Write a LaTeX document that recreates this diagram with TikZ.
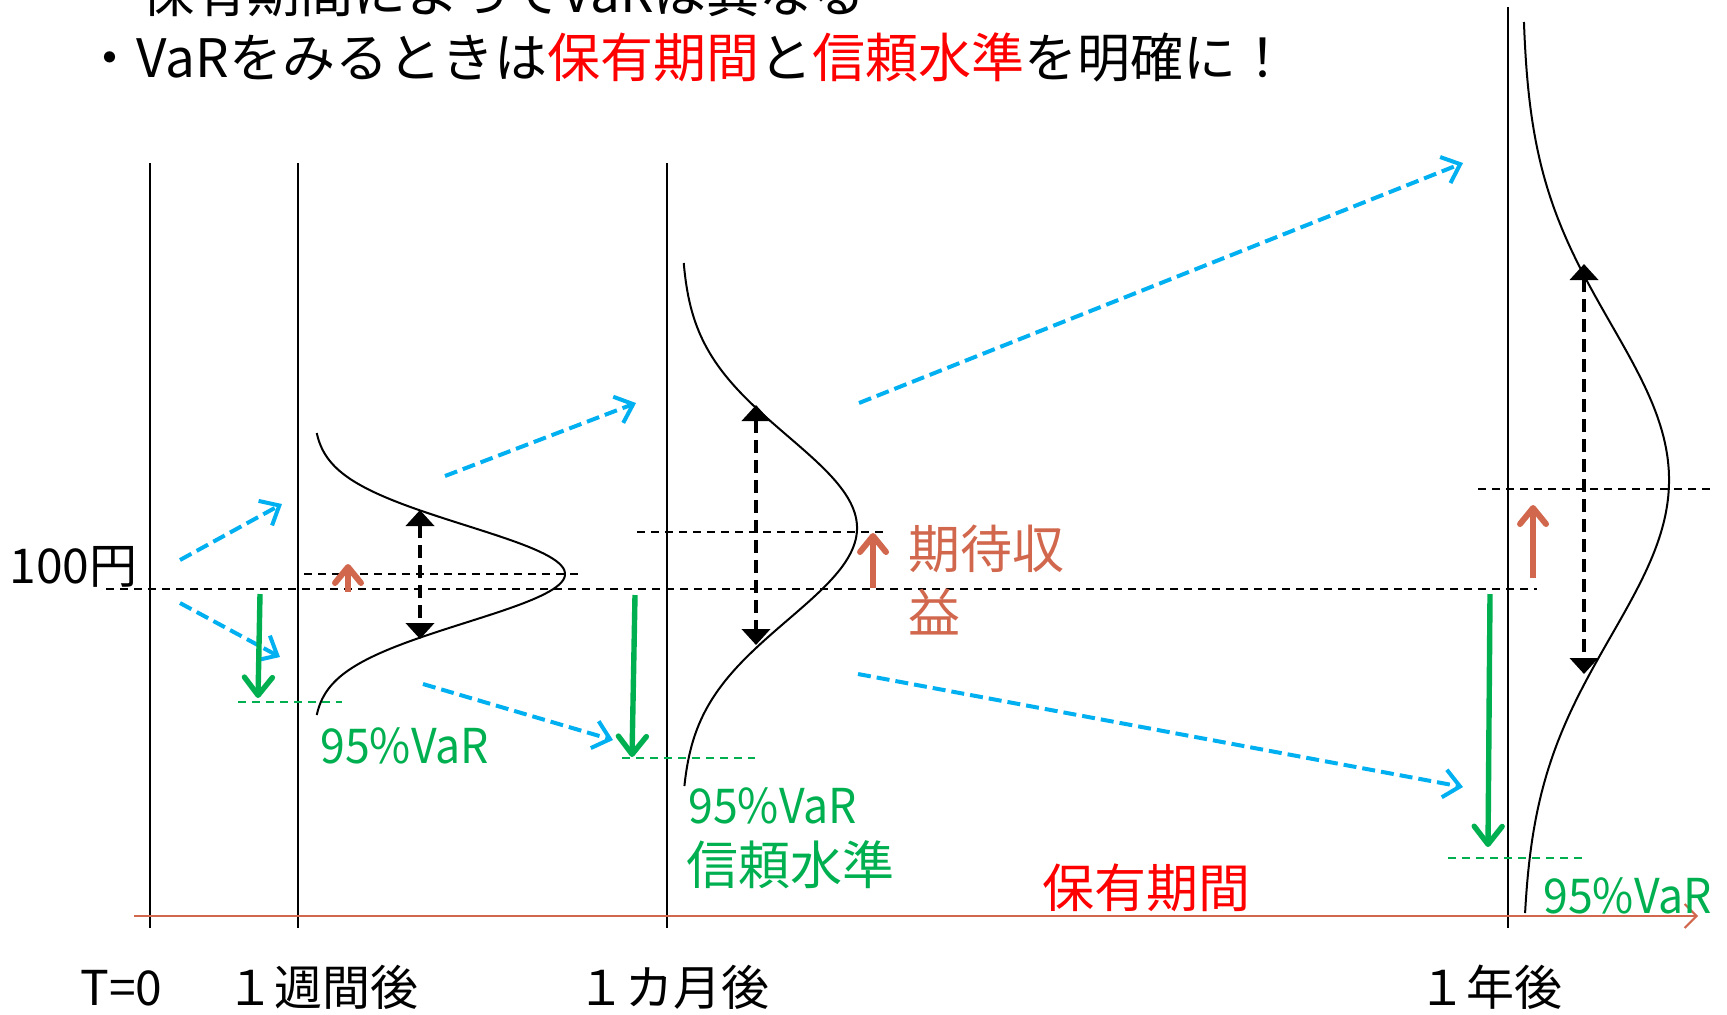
\documentclass[tikz,border=0pt]{standalone}
\usepackage{fontspec}
\setmainfont{Noto Sans CJK JP}
\usetikzlibrary{arrows.meta}
\definecolor{myblue}{RGB}{0,176,240}
\definecolor{mygreen}{RGB}{0,176,80}
\definecolor{myorange}{RGB}{209,104,78}
\newcommand{\varlbl}{\scalebox{0.93}[1]{95\%VaR}}
\tikzset{
  x=0.5pt, y=-0.5pt,
  vline/.style={line width=1pt},
  refline/.style={line width=1pt, dash pattern=on 4pt off 3pt},
  greendash/.style={mygreen, line width=0.8pt, dash pattern=on 4pt off 3pt},
  bluearrow/.style={myblue, line width=2pt, dash pattern=on 6.5pt off 3pt, -{Straight Barb[length=8pt,width=14pt]}},
  spread/.style={line width=2pt, dash pattern=on 6.5pt off 3.5pt, {Triangle[length=8pt,width=14pt]}-{Triangle[length=8pt,width=14pt]}},
  retarrow/.style={myorange, line width=3pt, -{Straight Barb[length=8pt,width=13pt,round]}},
  vararrow/.style={mygreen, line width=2.7pt, -{Straight Barb[length=9pt,width=14pt,round]}},
  dist/.style={line width=1pt},
  axisline/.style={myorange, line width=1pt, -{Straight Barb[length=6pt,width=12pt]}},
  txt/.style={anchor=base west, inner sep=0pt, font=\fontsize{#1}{#1}\selectfont},
}
\begin{document}
\begin{tikzpicture}
\useasboundingbox (0,0) rectangle (1727,1014);

% title
\node[txt=26.5pt] (title1) at (141,12) {保有期間によってVaRは異なる};
\node[txt=26.5pt] (title2) at (83,77) {・VaRをみるときは{\color{red}保有期間}と{\color{red}信頼水準}を明確に！};

% vertical time lines
\coordinate (t0top) at (150,163); \coordinate (t0bot) at (150,928);
\coordinate (w1top) at (298,163); \coordinate (w1bot) at (298,928);
\coordinate (m1top) at (667,163); \coordinate (m1bot) at (667,928);
\coordinate (y1top) at (1508,7);  \coordinate (y1bot) at (1508,928);
\draw[vline] (t0top) -- (t0bot);
\draw[vline] (w1top) -- (w1bot);
\draw[vline] (m1top) -- (m1bot);
\draw[vline] (y1top) -- (y1bot);

% time axis
\coordinate (axs) at (134,916); \coordinate (axe) at (1698,916);
\draw[axisline] (axs) -- (axe);

% reference 100 line and expected levels
\coordinate (r0) at (106,589); \coordinate (r1) at (1537,589);
\draw[refline] (r0) -- (r1);
\coordinate (wp0) at (304,574); \coordinate (wp1) at (578,574);
\draw[refline] (wp0) -- (wp1);
\coordinate (mp0) at (637,532); \coordinate (mp1) at (883,532);
\draw[refline] (mp0) -- (mp1);
\coordinate (yp0) at (1478,489); \coordinate (yp1) at (1710,489);
\draw[refline] (yp0) -- (yp1);

% VaR levels
\coordinate (wv0) at (238,702); \coordinate (wv1) at (342,702);
\draw[greendash] (wv0) -- (wv1);
\coordinate (mv0) at (622,758); \coordinate (mv1) at (755,758);
\draw[greendash] (mv0) -- (mv1);
\coordinate (yv0) at (1448,858); \coordinate (yv1) at (1582,858);
\draw[greendash] (yv0) -- (yv1);

% distributions
\draw[dist] plot[domain=433:715, samples=120, variable=\t] ({313+252*exp(-0.5*((\t-574)/48.6)^2)}, \t);
\draw[dist] plot[domain=263:786, samples=160, variable=\t] ({681+176*exp(-0.5*((\t-528)/91.9)^2)}, \t);
\draw[dist] plot[domain=22:913, samples=200, variable=\t] ({1522+147*exp(-0.5*((\t-480)/155.7)^2)}, \t);

% blue path arrows
\coordinate (b1s) at (180,560); \coordinate (b1e) at (282,504);
\coordinate (b2s) at (180,603); \coordinate (b2e) at (280,657);
\coordinate (b3s) at (445,476); \coordinate (b3e) at (636,403);
\coordinate (b4s) at (423,684); \coordinate (b4e) at (613,740);
\coordinate (b5s) at (859,403); \coordinate (b5e) at (1463,163);
\coordinate (b6s) at (858,674); \coordinate (b6e) at (1463,787);
\draw[bluearrow] (b1s) -- (b1e);
\draw[bluearrow] (b2s) -- (b2e);
\draw[bluearrow] (b3s) -- (b3e);
\draw[bluearrow] (b4s) -- (b4e);
\draw[bluearrow] (b5s) -- (b5e);
\draw[bluearrow] (b6s) -- (b6e);

% spread arrows
\coordinate (d1a) at (420,510); \coordinate (d1b) at (420,639);
\coordinate (d2a) at (756,405); \coordinate (d2b) at (756,645);
\coordinate (d3a) at (1584,264); \coordinate (d3b) at (1584,674);
\draw[spread] (d1a) -- (d1b);
\draw[spread] (d2a) -- (d2b);
\draw[spread] (d3a) -- (d3b);

% expected return arrows
\coordinate (e1s) at (348,592); \coordinate (e1e) at (348,564);
\coordinate (e2s) at (873,588); \coordinate (e2e) at (873,533);
\coordinate (e3s) at (1533,578); \coordinate (e3e) at (1533,505);
\draw[retarrow] (e1s) -- (e1e);
\draw[retarrow] (e2s) -- (e2e);
\draw[retarrow] (e3s) -- (e3e);

% VaR arrows
\coordinate (g1s) at (260,594); \coordinate (g1e) at (258,698);
\coordinate (g2s) at (635,595); \coordinate (g2e) at (632,757);
\coordinate (g3s) at (1490,594); \coordinate (g3e) at (1488,847);
\draw[vararrow] (g1s) -- (g1e);
\draw[vararrow] (g2s) -- (g2e);
\draw[vararrow] (g3s) -- (g3e);

% labels
\node[txt=24pt] (yen) at (9,583) {100円};
\node[txt=24pt, text=mygreen] (var1) at (320,763) {\varlbl};
\node[txt=24pt, text=mygreen] (var2) at (688,823) {\varlbl};
\node[txt=26pt, text=mygreen] (conf) at (686,884) {信頼水準};
\node[txt=24pt, text=mygreen] (var3) at (1543,913) {\varlbl};
\node[txt=26pt, text=myorange] (ret1) at (908,568) {期待収};
\node[txt=26pt, text=myorange] (ret2) at (908,632) {益};
\node[txt=26pt, text=red] (hold) at (1042,907) {保有期間};

\node[txt=24pt] (lt0) at (80,1005) {T=0};
\node[txt=24pt] (lw1) at (226,1005) {１週間後};
\node[txt=24pt] (lm1) at (577,1005) {１カ月後};
\node[txt=24pt] (ly1) at (1418,1005) {１年後};
\end{tikzpicture}
\end{document}
